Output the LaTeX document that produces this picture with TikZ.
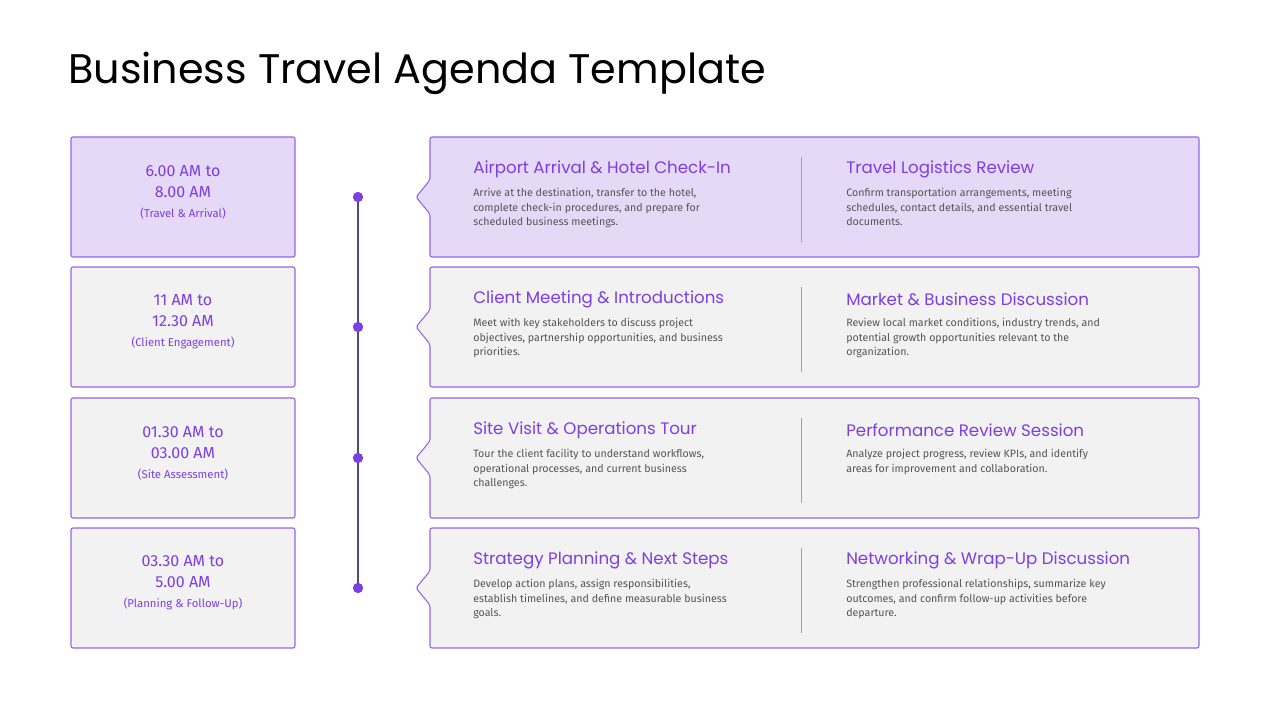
\documentclass[tikz,border=0pt]{standalone}
\usepackage{fontspec}
\setmainfont{Fira Sans}
\newfontfamily\pop{Poppins}
\begin{document}
\begin{tikzpicture}[x=0.75pt,y=-0.75pt,
  bx/.style={draw=purp!80, line width=0.8pt, rounded corners=1.5pt},
  hd/.style={anchor=west, text=purp, font=\pop\fontsize{12.5}{14}\selectfont},
  bd/.style={anchor=north west, text=bodyc, align=left, font=\fontsize{8}{11}\selectfont, inner sep=0},
  tm/.style={align=center, text=purp, font=\fontsize{12}{19}\selectfont},
  dot/.style={circle, fill=purp, inner sep=0, minimum size=7.5pt}]
\definecolor{purp}{HTML}{7B3FE4}
\definecolor{bodyc}{HTML}{555555}
\definecolor{lav}{HTML}{E5D9F7}
\definecolor{gry}{HTML}{F2F2F2}
\definecolor{linec}{HTML}{5A4A7A}
\useasboundingbox (0,0) rectangle (1280,720);
\node[anchor=west, inner sep=0, font=\pop\fontsize{31}{36}\selectfont] (title) at (68,73) {Business Travel Agenda Template};
\def\row#1#2#3#4#5#6#7#8#9{%
  \fill[#2] (71,#1) rectangle (295,#1+120);
  \draw[bx] (71,#1) rectangle (295,#1+120);
  \node[tm] (t#9) at (183,#1+55) {#3\\[-3pt]#4\\[-4pt]{\fontsize{8.5}{10}\selectfont #5}};
  \draw[bx, fill=#2] (430,#1) -- (1199,#1) -- (1199,#1+120) -- (430,#1+120) -- (430,#1+77) -- (416,#1+60) -- (430,#1+43) -- cycle;
  \draw[purp!60, line width=0.6pt] (801,#1+20) -- (801,#1+105);
  \node[dot] (d#9) at (358,#1+60) {};
}
\def\txt#1#2#3#4#5#6{%
  \node[hd, inner sep=0] (h#6a) at (473,#1+32) {#2};
  \node[bd] (b#6a) at (473,#1+51) {#3};
  \node[hd, inner sep=0] (h#6b) at (846,#1+32) {#4};
  \node[bd] (b#6b) at (846,#1+51) {#5};
}
\row{137}{lav}{6.00 AM to}{8.00 AM}{(Travel \& Arrival)}{}{}{}{1}
\row{267}{gry}{11 AM to}{12.30 AM}{(Client Engagement)}{}{}{}{2}
\row{398}{gry}{01.30 AM to}{03.00 AM}{(Site Assessment)}{}{}{}{3}
\row{528}{gry}{03.30 AM to}{5.00 AM}{(Planning \& Follow-Up)}{}{}{}{4}
\draw[linec, line width=0.8pt] (d1) -- (d2) -- (d3) -- (d4);
\foreach \i in {1,...,4} \node[dot] at (d\i) {};
\txt{137}{Airport Arrival \& Hotel Check-In}{Arrive at the destination, transfer to the hotel,\\complete check-in procedures, and prepare for\\scheduled business meetings.}{Travel Logistics Review}{Confirm transportation arrangements, meeting\\schedules, contact details, and essential travel\\documents.}{1}
\txt{267}{Client Meeting \& Introductions}{Meet with key stakeholders to discuss project\\objectives, partnership opportunities, and business\\priorities.}{Market \& Business Discussion}{Review local market conditions, industry trends, and\\potential growth opportunities relevant to the\\organization.}{2}
\txt{398}{Site Visit \& Operations Tour}{Tour the client facility to understand workflows,\\operational processes, and current business\\challenges.}{Performance Review Session}{Analyze project progress, review KPIs, and identify\\areas for improvement and collaboration.}{3}
\txt{528}{Strategy Planning \& Next Steps}{Develop action plans, assign responsibilities,\\establish timelines, and define measurable business\\goals.}{Networking \& Wrap-Up Discussion}{Strengthen professional relationships, summarize key\\outcomes, and confirm follow-up activities before\\departure.}{4}
\end{tikzpicture}
\end{document}
